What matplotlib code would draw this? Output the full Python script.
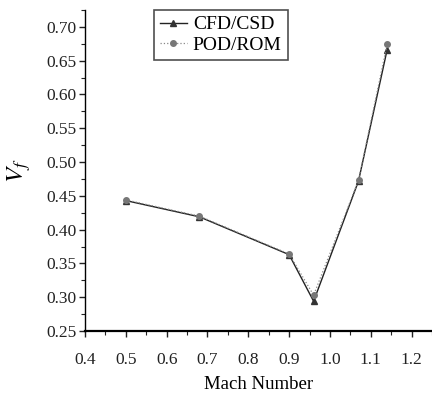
import matplotlib
matplotlib.use("Agg")
import matplotlib.pyplot as plt
from matplotlib.ticker import MultipleLocator, FormatStrFormatter

plt.rcParams['font.family'] = ['Liberation Serif', 'DejaVu Serif']
plt.rcParams['mathtext.fontset'] = 'stix'

mach = [0.50, 0.68, 0.90, 0.96, 1.07, 1.14]
cfd_csd = [0.443, 0.419, 0.363, 0.294, 0.472, 0.666]
pod_rom = [0.444, 0.420, 0.364, 0.303, 0.473, 0.674]

fig = plt.figure(figsize=(4.32, 3.94), dpi=100)
ax = fig.add_axes([85/432, 1 - 331/394, (432 - 85)/432, (331 - 10)/394])

ax.plot(mach, cfd_csd, color='#222222', lw=1.0, ls='-', marker='^', ms=4.5,
        mfc='#333333', mec='#333333', label='CFD/CSD')
ax.plot(mach, pod_rom, color='#888888', lw=0.9, ls=':', marker='o', ms=4,
        mfc='#777777', mec='#777777', label='POD/ROM')

ax.set_xlim(0.4, 1.25)
ax.set_ylim(0.25, 0.725)
ax.xaxis.set_major_locator(MultipleLocator(0.1))
ax.xaxis.set_minor_locator(MultipleLocator(0.05))
ax.yaxis.set_major_locator(MultipleLocator(0.05))
ax.yaxis.set_minor_locator(MultipleLocator(0.025))
ax.xaxis.set_major_formatter(FormatStrFormatter('%.1f'))
ax.yaxis.set_major_formatter(FormatStrFormatter('%.2f'))
ax.spines['top'].set_visible(False)
ax.spines['right'].set_visible(False)
ax.spines['left'].set_linewidth(1.0)
ax.spines['bottom'].set_linewidth(1.6)
ax.tick_params(which='major', direction='out', length=4, width=1, labelsize=12.5, colors='#222222')
ax.tick_params(which='minor', direction='out', length=3, width=0.8, colors='#222222')
ax.tick_params(axis='x', which='major', pad=11)
ax.tick_params(axis='y', which='major', pad=2)

ax.set_xlabel('Mach Number', fontsize=13.5, labelpad=6)
ax.set_ylabel(r'$V_f$', fontsize=18, labelpad=10)

leg = ax.legend(loc='upper left', bbox_to_anchor=((154 - 85)/347, 1.0), fontsize=14,
                frameon=True, fancybox=False, edgecolor='#222222', handlelength=1.4,
                handletextpad=0.3, borderpad=0.3, labelspacing=0.15, borderaxespad=0)
leg.get_frame().set_linewidth(1.2)

fig.savefig('out.png', dpi=100)
